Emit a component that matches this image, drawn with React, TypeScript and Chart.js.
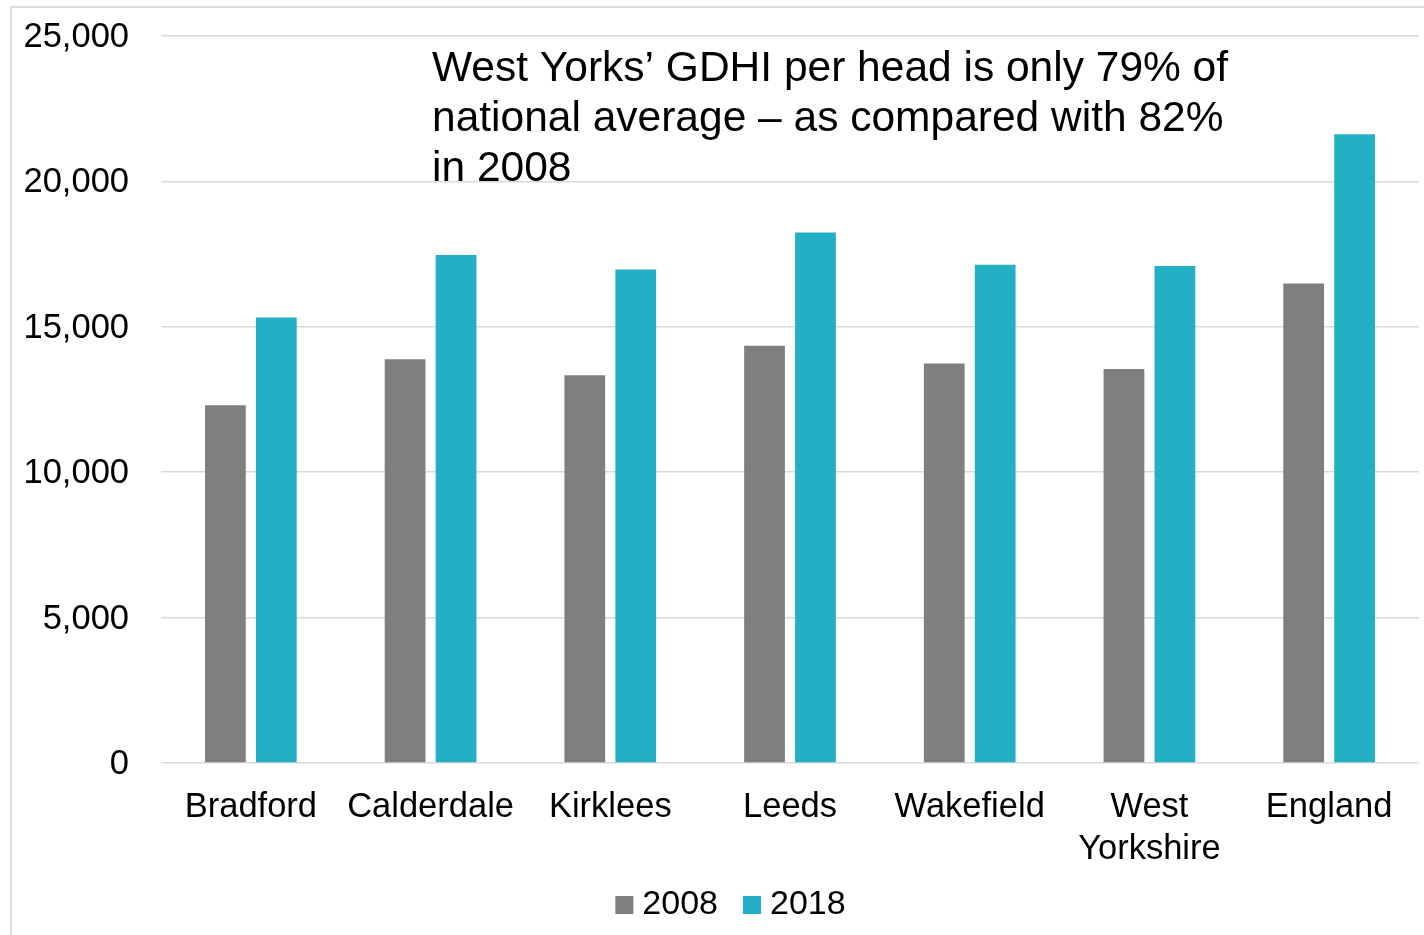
import React, { useEffect, useRef } from 'react';
import { Chart, registerables } from 'chart.js';

Chart.register(...registerables);

const categories: (string | string[])[] = [
  'Bradford',
  'Calderdale',
  'Kirklees',
  'Leeds',
  'Wakefield',
  ['West', 'Yorkshire'],
  'England',
];
const seriesLabels = ['2008', '2018'];
const values2008 = [12300, 13880, 13330, 14350, 13740, 13550, 16490];
const values2018 = [15320, 17470, 16970, 18240, 17130, 17090, 21620];
const yMin = 0;
const yMax = 25000;
const yStep = 5000;
const annotationLines = [
  'West Yorks’ GDHI per head is only 79% of',
  'national average – as compared with 82%',
  'in 2008',
];
const seriesColors = ['#7f7f7f', '#23b0c5'];

const FONT = '"Liberation Sans", Arial, Helvetica, sans-serif';

export default function App() {
  const ref = useRef<HTMLCanvasElement>(null);

  useEffect(() => {
    if (!ref.current) return;
    Chart.defaults.font.family = FONT;

    const annotation = {
      id: 'annotationText',
      afterDraw(chart: any) {
        const ctx = chart.ctx as CanvasRenderingContext2D;
        ctx.save();
        ctx.font = `42.5px ${FONT}`;
        ctx.fillStyle = '#000000';
        ctx.textAlign = 'left';
        ctx.textBaseline = 'alphabetic';
        annotationLines.forEach((t, i) => ctx.fillText(t, 432, 80.7 + i * 50));
        ctx.restore();
      },
    };

    // widen the label clip areas so the tick labels are not cut
    const labelArea = {
      id: 'labelArea',
      afterLayout(chart: any) {
        chart.scales.y.left = 0;
        chart.scales.x.bottom = chart.height;
      },
    };

    const chart = new Chart(ref.current, {
      type: 'bar',
      data: {
        labels: categories,
        datasets: [
          {
            label: seriesLabels[0],
            data: values2008,
            backgroundColor: seriesColors[0],
            borderWidth: 0,
            categoryPercentage: 0.567,
            barPercentage: 0.8,
          },
          {
            label: seriesLabels[1],
            data: values2018,
            backgroundColor: seriesColors[1],
            borderWidth: 0,
            categoryPercentage: 0.567,
            barPercentage: 0.8,
          },
        ],
      },
      options: {
        responsive: false,
        animation: false,
        devicePixelRatio: 1,
        events: [],
        layout: { padding: { left: 50, right: 5, top: 36, bottom: 3 } },
        plugins: {
          legend: {
            position: 'bottom',
            labels: {
              font: { size: 34, family: FONT },
              color: '#000000',
              usePointStyle: true,
              pointStyle: 'rect',
              boxWidth: 2,
              boxHeight: 18,
              padding: 33,
            },
          },
          tooltip: { enabled: false },
          title: { display: false },
        },
        scales: {
          x: {
            grid: { display: false, drawTicks: false },
            border: { display: false },
            ticks: {
              font: { size: 34.5, family: FONT },
              color: '#000000',
              padding: 24,
              maxRotation: 0,
              autoSkip: false,
            },
            afterFit: (s: any) => {
              s.height = 92;
            },
          },
          y: {
            min: yMin,
            max: yMax,
            ticks: {
              stepSize: yStep,
              font: { size: 34.5, family: FONT },
              color: '#000000',
              padding: 32,
              labelOffset: 1.5,
            },
            grid: { color: '#d9d9d9', lineWidth: 1.5, drawTicks: false },
            border: { display: false },
            afterFit: (s: any) => {
              s.width = 111;
              s.paddingTop = 0;
              s.paddingBottom = 0;
            },
          },
        },
      },
      plugins: [annotation, labelArea],
    } as any);

    return () => chart.destroy();
  }, []);

  return (
    <div
      style={{
        position: 'absolute',
        left: 0,
        top: 0,
        width: 1424,
        height: 935,
        overflow: 'hidden',
        background: '#ffffff',
      }}
    >
      <div
        style={{
          position: 'absolute',
          left: 10,
          top: 6,
          width: 1430,
          height: 940,
          borderLeft: '2px solid #dedede',
          borderTop: '2px solid #dedede',
        }}
      />
      <canvas
        ref={ref}
        width={1424}
        height={935}
        style={{ position: 'absolute', left: 0, top: 0, width: 1424, height: 935 }}
      />
    </div>
  );
}
